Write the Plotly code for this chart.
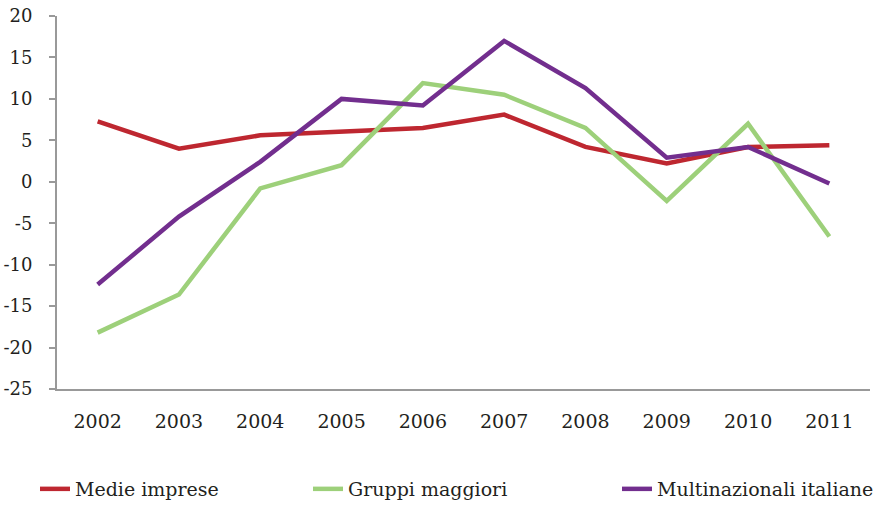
import plotly.graph_objects as go

years = ["2002", "2003", "2004", "2005", "2006", "2007", "2008", "2009", "2010", "2011"]
medie_imprese = [7.3, 4.0, 5.6, 6.1, 6.5, 8.1, 4.2, 2.2, 4.2, 4.4]
gruppi_maggiori = [-18.2, -13.6, -0.8, 2.0, 11.9, 10.5, 6.5, -2.3, 7.0, -6.6]
multinazionali = [-12.4, -4.2, 2.4, 10.0, 9.2, 17.0, 11.3, 2.9, 4.2, -0.2]

y_ticks = [20, 15, 10, 5, 0, -5, -10, -15, -20, -25]

series = [
    ("Medie imprese", medie_imprese, "#BE2730", "legend"),
    ("Gruppi maggiori", gruppi_maggiori, "#9DD07A", "legend2"),
    ("Multinazionali italiane", multinazionali, "#722E8E", "legend3"),
]

fig = go.Figure()
for name, vals, color, lg in series:
    fig.add_trace(go.Scatter(
        x=years, y=vals, name=name, mode="lines",
        line=dict(color=color, width=4.5),
        legend=lg,
    ))

FAM = "DejaVu Serif"
TXT = "#231F20"
font = dict(family=FAM, size=19, color=TXT)
yfont = dict(family=FAM, size=18, color=TXT)
lfont = dict(family=FAM, size=19, color=TXT)
leg_common = dict(orientation="h", xref="paper", yref="paper",
                  yanchor="middle", xanchor="left", font=lfont,
                  bgcolor="rgba(0,0,0,0)", itemwidth=30)

W, H = 883, 505
L, R, T, B = 57, 13, 16, 116
pw = W - L - R
ph = H - T - B


def px_to_paper_x(px):
    return (px - L) / pw


def py_to_paper_y(py):
    return (H - B - py) / ph


fig.update_layout(
    width=W, height=H,
    margin=dict(l=L, r=R, t=T, b=B, autoexpand=False),
    paper_bgcolor="white", plot_bgcolor="white",
    font=font,
    showlegend=True,
    legend=dict(x=px_to_paper_x(35), y=py_to_paper_y(489), **leg_common),
    legend2=dict(x=px_to_paper_x(308), y=py_to_paper_y(489), **leg_common),
    legend3=dict(x=px_to_paper_x(617), y=py_to_paper_y(489), **leg_common),
    xaxis=dict(
        type="category", range=[-0.5, 9.5],
        showline=True, linecolor="#999999", linewidth=2,
        ticks="", showgrid=False, zeroline=False, automargin=False,
        ticklabelstandoff=14, tickfont=font,
    ),
    yaxis=dict(
        range=[-25, 20], tickvals=y_ticks, ticktext=[str(v) for v in y_ticks],
        showline=True, linecolor="#999999", linewidth=2,
        ticks="outside", ticklen=6, tickcolor="#999999", tickwidth=1.5,
        showgrid=False, zeroline=False, automargin=False,
        ticklabelstandoff=13, tickfont=yfont,
    ),
)

fig.write_html("out.html", config={"displayModeBar": False},
               post_script="document.body.style.margin='0px';")
